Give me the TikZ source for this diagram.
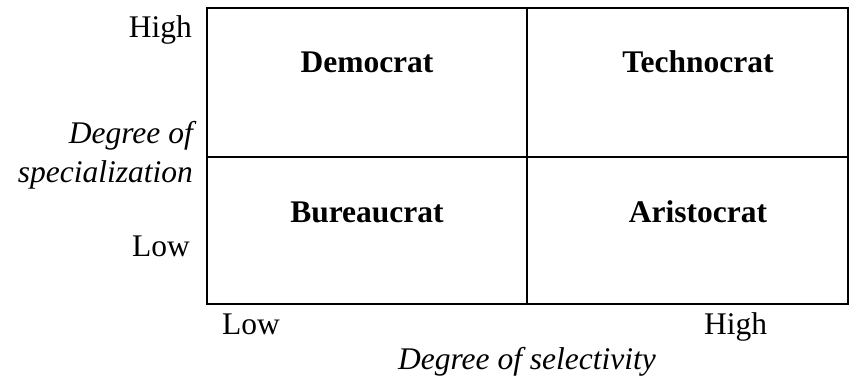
\documentclass[tikz,border=0pt]{standalone}
\usepackage{fontspec}
\setmainfont{Liberation Serif}
\begin{document}
\begin{tikzpicture}[x=1pt,y=-1pt,
  frame/.style={line width=2pt,draw=black},
  lbl/.style={inner sep=0pt,font=\fontsize{31.5}{36}\selectfont},
  cell/.style={lbl,anchor=base,font=\fontsize{31.5}{36}\selectfont\bfseries},
  axis/.style={lbl,font=\fontsize{31.5}{36}\selectfont\itshape}]
\useasboundingbox (0,0) rectangle (857,379);
\coordinate (tl) at (207,8);
\coordinate (br) at (848,304);
\coordinate (mt) at (527,8);
\coordinate (mb) at (527,304);
\coordinate (ml) at (207,157);
\coordinate (mr) at (848,157);
\draw[frame] (tl) rectangle (br);
\draw[frame] (mt) -- (mb);
\draw[frame] (ml) -- (mr);
\node[cell] (dem) at (367,73) {Democrat};
\node[cell] (tec) at (698,73) {Technocrat};
\node[cell] (bur) at (367,223) {Bureaucrat};
\node[cell] (ari) at (698,223) {Aristocrat};
\node[lbl,anchor=base east] (yhigh) at (192,38) {High};
\node[lbl,anchor=base east] (ylow) at (190,257) {Low};
\node[axis,anchor=base east] (ydeg1) at (193,144) {Degree of};
\node[axis,anchor=base east] (ydeg2) at (193,183) {specialization};
\node[lbl,anchor=base west] (xlow) at (222,335) {Low};
\node[lbl,anchor=base west] (xhigh) at (704,335) {High};
\node[axis,anchor=base] (xdeg) at (527,370) {Degree of selectivity};
\end{tikzpicture}
\end{document}
